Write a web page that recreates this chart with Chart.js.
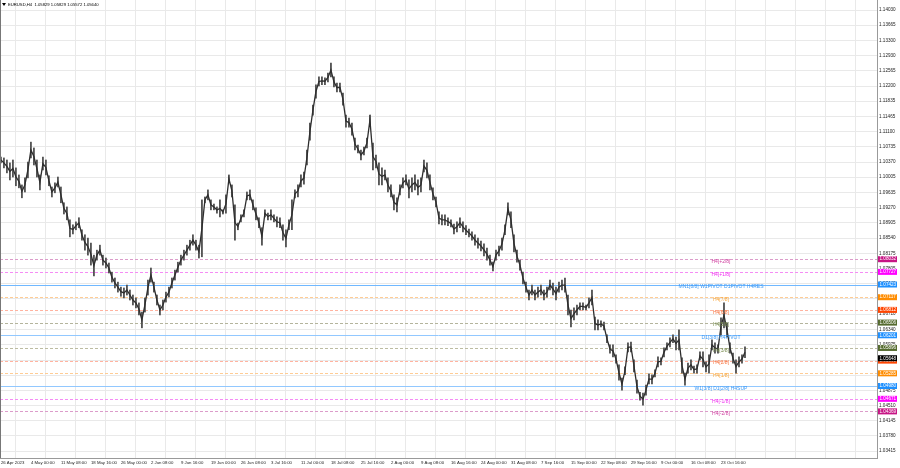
<!DOCTYPE html>
<html>
<head>
<meta charset="utf-8">
<title>EURUSD,H4</title>
<script src="https://cdn.jsdelivr.net/npm/chart.js@4"></script>
<style>
  html, body { margin: 0; padding: 0; background: #fff; overflow: hidden; }
  canvas { display: block; }
</style>
</head>
<body>
<canvas id="chart" width="900" height="468"></canvas>
<script>
// EURUSD H4, one sample every few bars (high / low)
const highs = [
  1.1049, 1.1047, 1.1042, 1.1035, 1.1042, 1.1023, 1.1006, 1.0982, 1.0999, 1.1037,
  1.1085, 1.1071, 1.1042, 1.1006, 1.1049, 1.1042, 1.1004, 1.0977, 1.0987, 1.1001,
  1.0977, 1.0939, 1.0929, 1.0898, 1.0886, 1.0893, 1.0903, 1.0874, 1.0862, 1.0854,
  1.0842, 1.0813, 1.0825, 1.0837, 1.0813, 1.0806, 1.0794, 1.0772, 1.0758, 1.0748,
  1.0736, 1.0734, 1.0741, 1.0729, 1.0717, 1.0710, 1.0698, 1.0676, 1.0710, 1.0753,
  1.0782, 1.0748, 1.0717, 1.0693, 1.0705, 1.0724, 1.0736, 1.0758, 1.0777, 1.0796,
  1.0813, 1.0825, 1.0837, 1.0849, 1.0862, 1.0849, 1.0837, 1.0946, 1.0953, 1.0970,
  1.0946, 1.0936, 1.0929, 1.0946, 1.0922, 1.0958, 1.1006, 1.0982, 1.0934, 1.0890,
  1.0910, 1.0922, 1.0965, 1.0970, 1.0946, 1.0927, 1.0903, 1.0879, 1.0922, 1.0914,
  1.0922, 1.0910, 1.0905, 1.0903, 1.0886, 1.0874, 1.0898, 1.0946, 1.0970, 1.0982,
  1.1006, 1.1013, 1.1066, 1.1131, 1.1174, 1.1223, 1.1242, 1.1242, 1.1240, 1.1251,
  1.1275, 1.1242, 1.1227, 1.1227, 1.1203, 1.1150, 1.1143, 1.1131, 1.1095, 1.1078,
  1.1066, 1.1073, 1.1095, 1.1150, 1.1083, 1.1054, 1.1035, 1.1023, 1.1018, 1.0999,
  1.0982, 1.0958, 1.0951, 1.0982, 1.0999, 1.1006, 1.0994, 1.0999, 1.1006, 1.0994,
  1.0999, 1.1042, 1.1035, 1.1006, 1.0975, 1.0953, 1.0917, 1.0910, 1.0910, 1.0903,
  1.0898, 1.0888, 1.0893, 1.0903, 1.0893, 1.0884, 1.0876, 1.0869, 1.0862, 1.0854,
  1.0847, 1.0840, 1.0830, 1.0813, 1.0796, 1.0825, 1.0835, 1.0854, 1.0886, 1.0939,
  1.0917, 1.0862, 1.0825, 1.0801, 1.0772, 1.0748, 1.0729, 1.0741, 1.0729, 1.0736,
  1.0741, 1.0729, 1.0736, 1.0753, 1.0746, 1.0736, 1.0748, 1.0753, 1.0758, 1.0717,
  1.0681, 1.0686, 1.0693, 1.0698, 1.0698, 1.0693, 1.0710, 1.0729, 1.0664, 1.0657,
  1.0655, 1.0652, 1.0621, 1.0597, 1.0597, 1.0573, 1.0549, 1.0517, 1.0544, 1.0602,
  1.0604, 1.0561, 1.0512, 1.0483, 1.0481, 1.0500, 1.0527, 1.0525, 1.0537, 1.0568,
  1.0566, 1.0590, 1.0602, 1.0614, 1.0621, 1.0616, 1.0633, 1.0566, 1.0529, 1.0553,
  1.0561, 1.0546, 1.0549, 1.0580, 1.0580, 1.0556, 1.0573, 1.0609, 1.0602, 1.0597,
  1.0662, 1.0698, 1.0650, 1.0602, 1.0577, 1.0561, 1.0568, 1.0573, 1.0592
];
const lows = [
  1.1035, 1.1023, 1.1011, 1.0994, 1.1001, 1.0980, 1.0975, 1.0951, 1.0965, 1.0999,
  1.1047, 1.1030, 1.1001, 1.0970, 1.1018, 1.1006, 1.0980, 1.0953, 1.0963, 1.0977,
  1.0939, 1.0912, 1.0898, 1.0857, 1.0864, 1.0874, 1.0879, 1.0849, 1.0825, 1.0813,
  1.0789, 1.0763, 1.0801, 1.0813, 1.0789, 1.0782, 1.0770, 1.0748, 1.0734, 1.0724,
  1.0714, 1.0710, 1.0717, 1.0705, 1.0693, 1.0686, 1.0669, 1.0638, 1.0676, 1.0717,
  1.0748, 1.0724, 1.0693, 1.0669, 1.0681, 1.0700, 1.0712, 1.0734, 1.0753, 1.0772,
  1.0789, 1.0801, 1.0813, 1.0825, 1.0837, 1.0825, 1.0806, 1.0809, 1.0939, 1.0946,
  1.0922, 1.0922, 1.0914, 1.0905, 1.0912, 1.0914, 1.0987, 1.0953, 1.0849, 1.0874,
  1.0893, 1.0905, 1.0946, 1.0946, 1.0922, 1.0898, 1.0879, 1.0837, 1.0905, 1.0898,
  1.0898, 1.0893, 1.0881, 1.0879, 1.0849, 1.0833, 1.0874, 1.0874, 1.0951, 1.0953,
  1.0977, 1.0984, 1.1030, 1.1090, 1.1150, 1.1191, 1.1220, 1.1223, 1.1223, 1.1230,
  1.1242, 1.1218, 1.1206, 1.1206, 1.1174, 1.1121, 1.1121, 1.1102, 1.1066, 1.1059,
  1.1042, 1.1054, 1.1071, 1.1126, 1.1018, 1.1023, 1.0982, 1.0982, 1.0994, 1.0965,
  1.0953, 1.0922, 1.0917, 1.0958, 1.0975, 1.0982, 1.0951, 1.0965, 1.0970, 1.0958,
  1.0965, 1.1013, 1.0999, 1.0970, 1.0946, 1.0929, 1.0888, 1.0886, 1.0886, 1.0884,
  1.0881, 1.0864, 1.0869, 1.0879, 1.0869, 1.0862, 1.0857, 1.0849, 1.0837, 1.0830,
  1.0823, 1.0811, 1.0801, 1.0789, 1.0775, 1.0801, 1.0811, 1.0825, 1.0862, 1.0910,
  1.0879, 1.0821, 1.0796, 1.0777, 1.0744, 1.0724, 1.0705, 1.0717, 1.0705, 1.0712,
  1.0717, 1.0705, 1.0712, 1.0729, 1.0717, 1.0705, 1.0724, 1.0729, 1.0724, 1.0669,
  1.0640, 1.0657, 1.0669, 1.0681, 1.0681, 1.0681, 1.0686, 1.0693, 1.0633, 1.0633,
  1.0640, 1.0633, 1.0602, 1.0577, 1.0568, 1.0553, 1.0512, 1.0488, 1.0525, 1.0580,
  1.0580, 1.0532, 1.0481, 1.0464, 1.0452, 1.0476, 1.0503, 1.0503, 1.0520, 1.0544,
  1.0549, 1.0568, 1.0585, 1.0592, 1.0602, 1.0585, 1.0585, 1.0529, 1.0500, 1.0529,
  1.0537, 1.0529, 1.0529, 1.0561, 1.0544, 1.0532, 1.0529, 1.0585, 1.0577, 1.0577,
  1.0621, 1.0638, 1.0616, 1.0577, 1.0553, 1.0529, 1.0544, 1.0553, 1.0566
];

// time axis labels, one every 10 samples
const dateLabels = [
  "26 Apr 2023", "4 May 00:00", "11 May 08:00", "18 May 16:00", "26 May 00:00",
  "2 Jun 08:00", "9 Jun 16:00", "19 Jun 00:00", "26 Jun 08:00", "3 Jul 16:00",
  "11 Jul 00:00", "18 Jul 08:00", "25 Jul 16:00", "2 Aug 00:00", "9 Aug 08:00",
  "16 Aug 16:00", "24 Aug 00:00", "31 Aug 08:00", "7 Sep 16:00", "15 Sep 00:00",
  "22 Sep 08:00", "29 Sep 16:00", "9 Oct 00:00", "16 Oct 08:00", "23 Oct 16:00"
];

const priceTicks = [
  1.14030, 1.13665, 1.13300, 1.12930, 1.12565, 1.12200, 1.11835, 1.11465, 1.11100, 1.10735,
  1.10370, 1.10005, 1.09635, 1.09270, 1.08905, 1.08540, 1.08175, 1.07805, 1.07440, 1.07075,
  1.06710, 1.06340, 1.05975, 1.05605, 1.05240, 1.04875, 1.04510, 1.04145, 1.03780, 1.03415
];

// murrey levels
const levelPrices = [1.08032, 1.07727, 1.07423, 1.07117, 1.06812, 1.06506, 1.06201,
                     1.05896, 1.05591, 1.05285, 1.04980, 1.04671, 1.04369];
const levelNames = ["H4[+2/8]", "H4[+1/8]", "MN1[8/8] W1PIVOT D1PIVOT H4RES", "H4[7/8]",
                    "H4[6/8]", "H4[5/8]", "D1[3/8] H4PIVOT", "H4[3/8]", "H4[2/8]",
                    "H4[1/8]", "W1[3/8] D1[2/8] H4SUP", "H4[-1/8]", "H4[-2/8]"];
const bidPrice = 1.05648;
const titleText = "EURUSD,H4  1.05829 1.05829 1.05572 1.05640";

// styles per level (kept apart from the values)
const levelStyle = [
  { line: "#dc9cca", box: "#c71585", text: "#d040a0", dash: true },
  { line: "#f58cf5", box: "#ff00ff", text: "#f030f0", dash: true },
  { line: "#70b8ff", box: "#1e90ff", text: "#3a98f5", dash: false },
  { line: "#ffcc94", box: "#ff8c00", text: "#f9a63a", dash: true },
  { line: "#ffb3a0", box: "#ff4500", text: "#f7743f", dash: true },
  { line: "#b4b49c", box: "#556b2f", text: "#74884a", dash: true },
  { line: "#92c8ff", box: "#1e90ff", text: "#3a98f5", dash: false },
  { line: "#bcbca2", box: "#556b2f", text: "#74884a", dash: true },
  { line: "#ffb3a0", box: "#ff4500", text: "#f7743f", dash: true },
  { line: "#ffcc94", box: "#ff8c00", text: "#f9a63a", dash: true },
  { line: "#92c8ff", box: "#1e90ff", text: "#3a98f5", dash: false },
  { line: "#f58cf5", box: "#ff00ff", text: "#f030f0", dash: true },
  { line: "#dc9cca", box: "#c71585", text: "#d040a0", dash: true }
];

const FONT = "'Liberation Sans', Arial, sans-serif";

const mtPlugin = {
  id: "mt",
  beforeDatasetsDraw(chart) {
    const { ctx, chartArea: a, scales: { y } } = chart;
    ctx.save();
    ctx.lineWidth = 1;
    levelPrices.forEach((p, i) => {
      const py = Math.round(y.getPixelForValue(p)) + 0.5;
      ctx.strokeStyle = levelStyle[i].line;
      ctx.setLineDash(levelStyle[i].dash ? [3, 2] : []);
      ctx.beginPath();
      ctx.moveTo(a.left, py);
      ctx.lineTo(a.right, py);
      ctx.stroke();
    });
    ctx.restore();
  },
  afterDatasetsDraw(chart) {
    const { ctx, scales: { x, y } } = chart;
    ctx.save();
    ctx.font = "5px " + FONT;
    ctx.textAlign = "center";
    ctx.textBaseline = "middle";
    const tx = x.getPixelForValue(240);
    levelPrices.forEach((p, i) => {
      ctx.fillStyle = levelStyle[i].text;
      ctx.fillText(levelNames[i], tx, y.getPixelForValue(p) + 2.5);
    });
    ctx.restore();
  },
  afterDraw(chart) {
    const { ctx, chartArea: a, scales: { y } } = chart;
    ctx.save();
    // price boxes on the right scale
    ctx.font = "4.6px " + FONT;
    ctx.textAlign = "left";
    ctx.textBaseline = "middle";
    const box = (p, bg) => {
      const py = y.getPixelForValue(p);
      ctx.fillStyle = bg;
      ctx.fillRect(a.right + 1, py - 3, 19, 6);
      ctx.fillStyle = "#fff";
      ctx.fillText(p.toFixed(5), a.right + 2.5, py);
    };
    levelPrices.forEach((p, i) => box(p, levelStyle[i].box));
    box(bidPrice, "#000");
    // left border
    ctx.strokeStyle = "#777";
    ctx.lineWidth = 1;
    ctx.beginPath();
    ctx.moveTo(0.5, a.top);
    ctx.lineTo(0.5, a.bottom);
    ctx.stroke();
    // title
    ctx.fillStyle = "#000";
    ctx.beginPath();
    ctx.moveTo(2, 3); ctx.lineTo(6, 3); ctx.lineTo(4, 6); ctx.closePath();
    ctx.fill();
    ctx.font = "4.2px " + FONT;
    ctx.fillText(titleText, 8, 5);
    ctx.restore();
  }
};

new Chart(document.getElementById("chart"), {
  type: "bar",
  data: {
    datasets: [{
      // high-low range of each sample
      data: highs.map((h, i) => ({ x: i, y: [lows[i], h] })),
      backgroundColor: "#555555",
      barThickness: 1.2,
      order: 2
    }, {
      // thin trace joining the samples
      type: "line",
      data: highs.map((h, i) => ({ x: i, y: (h + lows[i]) / 2 })),
      borderColor: "#2e2e2e",
      borderWidth: 1.3,
      pointRadius: 0,
      tension: 0,
      order: 1
    }]
  },
  options: {
    responsive: false,
    animation: false,
    events: [],
    layout: { padding: 0 },
    plugins: { legend: { display: false }, tooltip: { enabled: false } },
    scales: {
      x: {
        type: "linear",
        min: -0.3,
        max: 292,
        offset: false,
        grid: { color: "#e9e9e9", drawTicks: false },
        border: { color: "#9a9a9a" },
        ticks: {
          autoSkip: false,
          maxRotation: 0,
          align: "start",
          padding: 2,
          color: "#222",
          font: { size: 4.3, family: FONT },
          callback: (v) => dateLabels[v / 10] || ""
        },
        afterBuildTicks(s) {
          s.ticks = [];
          for (let v = 0; v <= 290; v += 10) s.ticks.push({ value: v });
        },
        afterFit(s) { s.height = 10; s.paddingLeft = 0; s.paddingRight = 0; }
      },
      y: {
        position: "right",
        min: 1.03247,
        max: 1.14271,
        grid: { color: "#e9e9e9", drawTicks: false },
        border: { color: "#9a9a9a" },
        ticks: {
          padding: 2,
          color: "#222",
          font: { size: 4.6, family: FONT },
          callback: (v) => v.toFixed(5)
        },
        afterBuildTicks(s) { s.ticks = priceTicks.map((v) => ({ value: v })); },
        afterFit(s) { s.width = 23; s.paddingTop = 0; s.paddingBottom = 0; }
      }
    }
  },
  plugins: [mtPlugin]
});
</script>
</body>
</html>
